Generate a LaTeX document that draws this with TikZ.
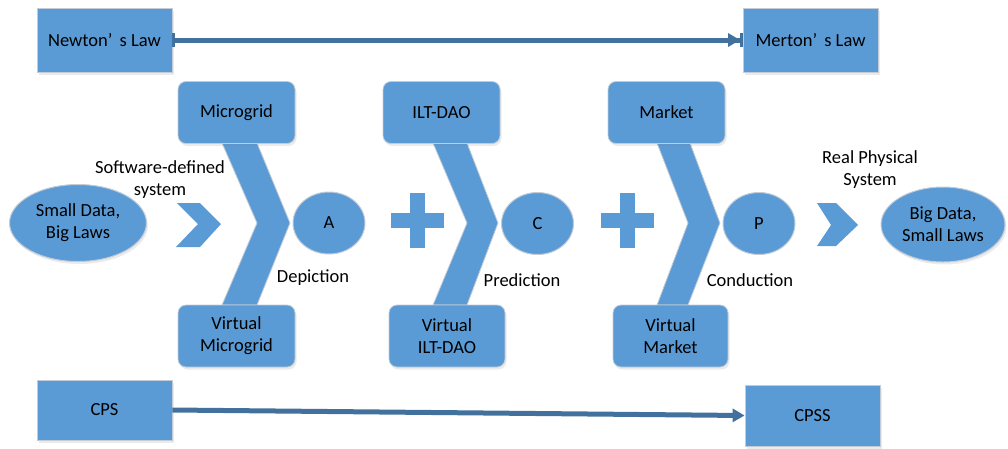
\documentclass[tikz,border=0pt]{standalone}
\usepackage{fontspec}
\setmainfont{Carlito}
\usetikzlibrary{arrows.meta,shapes.geometric,shadows}
\definecolor{boxblue}{HTML}{5B9BD5}
\definecolor{edgegray}{HTML}{C3CCD6}
\definecolor{linkblue}{HTML}{41719C}
\begin{document}
\begin{tikzpicture}[x=1pt,y=-1pt,
  every node/.style={font=\fontsize{18.5}{22}\selectfont, align=center, inner sep=0pt, text=black},
  softshadow/.style={drop shadow={opacity=0.16,shadow xshift=1.5pt,shadow yshift=-2.5pt,fill=gray}},
  lawbox/.style={rectangle, fill=boxblue, draw=edgegray, line width=0.8pt, softshadow,
                 minimum width=135pt},
  gridbox/.style={rectangle, rounded corners=8pt, fill=boxblue, draw=edgegray, line width=0.8pt,
                  softshadow, minimum height=62pt},
  blob/.style={ellipse, fill=boxblue, draw=edgegray, line width=1pt, softshadow},
  stage/.style={ellipse, fill=boxblue, draw=edgegray, line width=1pt,
                minimum width=72pt, minimum height=62pt},
  chev/.style={fill=boxblue, draw=edgegray, line width=0.8pt},
  plus/.style={fill=boxblue},
  lawlink/.style={draw=linkblue, line width=5pt,
    {Bar[width=14pt,line width=2.5pt]}-{Triangle[length=12pt,width=13pt]Bar[width=14pt,line width=2.5pt]}},
  cpslink/.style={draw=linkblue, line width=5pt, -{Triangle[length=12pt,width=13pt]}},
]
\useasboundingbox (0,0) rectangle (1008,448);

% large chevrons behind the boxes
\foreach \a/\b/\t/\c/\d in {222/257/290/222/257, 433/467/498/433/467, 657/690/720/657/688}{
  \path[chev] (\a,143) -- (\b,143) -- (\t,223) -- (\d,305) -- (\c,305) -- (\d,223) -- cycle;
}

% small chevrons
\path[chev, draw=none] (177,203) -- (200,203) -- (221,224) -- (200,247) -- (176,247) -- (198,224) -- cycle;
\path[chev, draw=none] (817,203) -- (836,203) -- (858,225) -- (836,246) -- (817,246) -- (831,225) -- cycle;

% plus signs
\foreach \px in {417,627}{
  \path[plus] (\px-26.5,212.5) rectangle (\px+26.5,227.5);
  \path[plus] (\px-7.5,192.5) rectangle (\px+7.5,247.5);
}

% laws
\node[lawbox, minimum height=64pt] (newton) at (104.5,40) {Newton’\hspace{3pt} s Law};
\node[lawbox, minimum height=64pt] (merton) at (810.5,40) {Merton’\hspace{3pt} s Law};
\node[lawbox, minimum height=60pt] (cps) at (104.5,410) {CPS};
\node[lawbox, minimum height=61pt] (cpss) at (812.5,415.5) {CPSS};

% physical and virtual layers
\node[gridbox, minimum width=117pt] (microgrid) at (236.5,112.5) {Microgrid};
\node[gridbox, minimum width=117pt] (vmicrogrid) at (236.5,336) {Virtual\\Microgrid};
\node[gridbox, minimum width=117pt] (iltdao) at (441.5,112.5) {ILT-DAO};
\node[gridbox, minimum width=116pt] (viltdao) at (447,336) {Virtual\\ILT-DAO};
\node[gridbox, minimum width=117pt] (market) at (666.5,112.5) {Market};
\node[gridbox, minimum width=115pt] (vmarket) at (670.5,336) {Virtual\\Market};

% data ends
\node[blob, minimum width=137pt, minimum height=77pt] (small) at (78,223) {Small Data,\\Big Laws};
\node[blob, minimum width=124pt, minimum height=75pt] (big) at (943,224.5) {Big Data,\\Small Laws};

% stages
\node[stage] (A) at (329,223) {A};
\node[stage] (C) at (537.5,223.5) {C};
\node[stage] (P) at (759,223.5) {P};

% captions
\node (sds) at (160,180) {Software-defined\\system};
\node (rps) at (870,170) {Real Physical\\System};
\node (dep) at (313,278) {Depiction};
\node (pred) at (522,280) {Prediction};
\node (cond) at (750,280) {Conduction};

% links
\draw[lawlink] (newton.east) -- (merton.west);
\draw[cpslink] (cps.east) -- (cpss.west);
\end{tikzpicture}
\end{document}
